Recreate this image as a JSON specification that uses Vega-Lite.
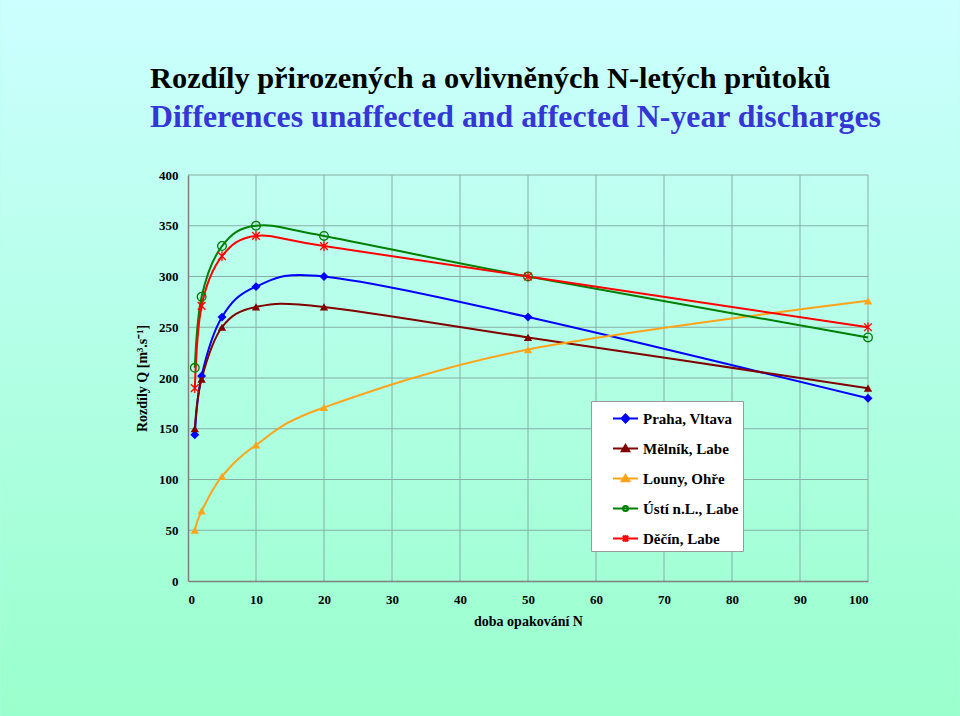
{
  "$schema": "https://vega.github.io/schema/vega-lite/v6.json",
  "width": 680,
  "height": 406,
  "autosize": {"type": "none"},
  "padding": {"left": 188, "top": 175, "right": 92, "bottom": 135},
  "background": "#b3ffe6",
  "title": {
    "text": "Rozdíly přirozených a ovlivněných N-letých průtoků",
    "subtitle": "Differences unaffected and affected N-year discharges",
    "anchor": "start",
    "frame": "group",
    "dx": -38,
    "offset": -134,
    "font": "Liberation Serif",
    "fontSize": 30.4,
    "fontWeight": "bold",
    "color": "#000000",
    "subtitleFont": "Liberation Serif",
    "subtitleFontSize": 31.8,
    "subtitleFontWeight": "bold",
    "subtitleColor": "#3636d6",
    "subtitlePadding": 8,
    "zindex": 2
  },
  "datasets": {
    "series": [
      {"station": "Praha, Vltava", "N": 1, "Q": 144},
      {"station": "Praha, Vltava", "N": 2, "Q": 202},
      {"station": "Praha, Vltava", "N": 5, "Q": 260},
      {"station": "Praha, Vltava", "N": 10, "Q": 290},
      {"station": "Praha, Vltava", "N": 20, "Q": 300},
      {"station": "Praha, Vltava", "N": 50, "Q": 260},
      {"station": "Praha, Vltava", "N": 100, "Q": 180},
      {"station": "Mělník, Labe", "N": 1, "Q": 150},
      {"station": "Mělník, Labe", "N": 2, "Q": 199},
      {"station": "Mělník, Labe", "N": 5, "Q": 250},
      {"station": "Mělník, Labe", "N": 10, "Q": 270},
      {"station": "Mělník, Labe", "N": 20, "Q": 270},
      {"station": "Mělník, Labe", "N": 50, "Q": 240},
      {"station": "Mělník, Labe", "N": 100, "Q": 190},
      {"station": "Louny, Ohře", "N": 1, "Q": 50},
      {"station": "Louny, Ohře", "N": 2, "Q": 69},
      {"station": "Louny, Ohře", "N": 5, "Q": 103},
      {"station": "Louny, Ohře", "N": 10, "Q": 134},
      {"station": "Louny, Ohře", "N": 20, "Q": 171},
      {"station": "Louny, Ohře", "N": 50, "Q": 228},
      {"station": "Louny, Ohře", "N": 100, "Q": 276},
      {"station": "Ústí n.L., Labe", "N": 1, "Q": 210},
      {"station": "Ústí n.L., Labe", "N": 2, "Q": 280},
      {"station": "Ústí n.L., Labe", "N": 5, "Q": 330},
      {"station": "Ústí n.L., Labe", "N": 10, "Q": 350},
      {"station": "Ústí n.L., Labe", "N": 20, "Q": 340},
      {"station": "Ústí n.L., Labe", "N": 50, "Q": 300},
      {"station": "Ústí n.L., Labe", "N": 100, "Q": 240},
      {"station": "Děčín, Labe", "N": 1, "Q": 190},
      {"station": "Děčín, Labe", "N": 2, "Q": 271},
      {"station": "Děčín, Labe", "N": 5, "Q": 320},
      {"station": "Děčín, Labe", "N": 10, "Q": 340},
      {"station": "Děčín, Labe", "N": 20, "Q": 330},
      {"station": "Děčín, Labe", "N": 50, "Q": 300},
      {"station": "Děčín, Labe", "N": 100, "Q": 250}
    ],
    "gridx": [{"g": 10}, {"g": 20}, {"g": 30}, {"g": 40}, {"g": 50}, {"g": 60}, {"g": 70}, {"g": 80}, {"g": 90}, {"g": 100}],
    "gridy": [{"g": 50}, {"g": 100}, {"g": 150}, {"g": 200}, {"g": 250}, {"g": 300}, {"g": 350}, {"g": 400}]
  },
  "config": {
    "view": {"stroke": null},
    "axis": {
      "labelFont": "Liberation Serif",
      "labelFontWeight": "bold",
      "labelFontSize": 13,
      "labelColor": "#000000",
      "titleFont": "Liberation Serif",
      "titleFontWeight": "bold",
      "titleFontSize": 14,
      "titleColor": "#000000",
      "domainColor": "#7f7f7f",
      "domainWidth": 1.5,
      "ticks": false,
      "grid": false
    }
  },
  "layer": [
    {
      "data": {"values": [{}]},
      "mark": {
        "type": "rect",
        "fill": {
          "gradient": "linear",
          "x1": 0, "y1": 0, "x2": 0, "y2": 1,
          "stops": [
            {"offset": 0, "color": "#ccffff"},
            {"offset": 1, "color": "#99ffcc"}
          ]
        }
      },
      "encoding": {
        "x": {"datum": -27.6, "type": "quantitative", "scale": {"domain": [0, 100], "nice": false, "zero": false},
              "axis": {"values": [0,10,20,30,40,50,60,70,80,90,100], "labelPadding": 12, "title": "doba opakování N", "titlePadding": 8, "zindex": 2}},
        "x2": {"datum": 113.5},
        "y": {"datum": 572.4, "type": "quantitative", "scale": {"domain": [0, 400], "nice": false, "zero": false},
              "axis": {"values": [0,50,100,150,200,250,300,350,400], "labelPadding": 10, "title": "Rozdíly Q [m³.s⁻¹]", "titlePadding": 9, "zindex": 2}},
        "y2": {"datum": -133}
      }
    },
    {
      "data": {"name": "gridx"},
      "mark": {"type": "rule", "color": "#86aea6", "strokeWidth": 1},
      "encoding": {"x": {"field": "g", "type": "quantitative",
              "axis": {"values": [0,10,20,30,40,50,60,70,80,90,100], "labelPadding": 12, "title": "doba opakování N", "titlePadding": 8, "zindex": 2}}}
    },
    {
      "data": {"name": "gridy"},
      "mark": {"type": "rule", "color": "#86aea6", "strokeWidth": 1},
      "encoding": {"y": {"field": "g", "type": "quantitative",
              "axis": {"values": [0,50,100,150,200,250,300,350,400], "labelPadding": 10, "title": "Rozdíly Q [m³.s⁻¹]", "titlePadding": 9, "zindex": 2}}}
    },
    {
      "data": {"name": "series"},
      "mark": {"type": "line", "interpolate": "cardinal", "strokeWidth": 2},
      "encoding": {
        "x": {"field": "N", "type": "quantitative",
              "axis": {"values": [0,10,20,30,40,50,60,70,80,90,100], "labelPadding": 12, "title": "doba opakování N", "titlePadding": 8, "zindex": 2}},
        "y": {"field": "Q", "type": "quantitative",
              "axis": {"values": [0,50,100,150,200,250,300,350,400], "labelPadding": 10, "title": "Rozdíly Q [m³.s⁻¹]", "titlePadding": 9, "zindex": 2}},
        "color": {
          "field": "station", "type": "nominal",
          "scale": {"domain": ["Praha, Vltava", "Mělník, Labe", "Louny, Ohře", "Ústí n.L., Labe", "Děčín, Labe"],
                    "range": ["#0000ff", "#800000", "#ffa31a", "#008000", "#ff0000"]},
          "legend": {
            "title": null,
            "orient": "none",
            "legendX": 403,
            "legendY": 226,
            "padding": 4,
            "symbolOffset": 17,
            "symbolSize": 625,
            "symbolStrokeWidth": 2,
            "rowPadding": 8,
            "labelOffset": 4,
            "labelFont": "Liberation Serif",
            "labelFontWeight": "bold",
            "labelFontSize": 15,
            "labelColor": "#000000",
            "fillColor": "#ffffff",
            "strokeColor": "#9a9a9a",
            "zindex": 2,
            "encode": {
              "symbols": {
                "update": {
                  "shape": {"signal": "datum.value === 'Praha, Vltava' ? 'M-1,0H1M0,-0.32L0.32,0L0,0.32L-0.32,0Z' : datum.value === 'Ústí n.L., Labe' ? 'M-1,0H1M0.2,0A0.2,0.2,0,1,1,-0.2,0A0.2,0.2,0,1,1,0.2,0ZM0.2,0A0.2,0.2,0,1,0,-0.2,0A0.2,0.2,0,1,0,0.2,0Z' : datum.value === 'Děčín, Labe' ? 'M-1,0H1M-0.22,-0.22L0.22,0.22M0.22,-0.22L-0.22,0.22M0,-0.28V0.28' : 'M-1,0H1M0,-0.28L0.3,0.22L-0.3,0.22Z'"},
                  "size": {"value": 625},
                  "fill": {"signal": "scale('color', datum.value)"},
                  "stroke": {"signal": "scale('color', datum.value)"},
                  "strokeWidth": {"value": 2},
                  "opacity": {"value": 1}
                }
              }
            }
          }
        }
      }
    },
    {
      "data": {"name": "series"},
      "transform": [{"filter": "datum.station === 'Praha, Vltava'"}],
      "mark": {"type": "point", "shape": "diamond", "filled": true, "opacity": 1, "size": 80},
      "encoding": {
        "x": {"field": "N", "type": "quantitative",
              "axis": {"values": [0,10,20,30,40,50,60,70,80,90,100], "labelPadding": 12, "title": "doba opakování N", "titlePadding": 8, "zindex": 2}},
        "y": {"field": "Q", "type": "quantitative",
              "axis": {"values": [0,50,100,150,200,250,300,350,400], "labelPadding": 10, "title": "Rozdíly Q [m³.s⁻¹]", "titlePadding": 9, "zindex": 2}},
        "color": {"field": "station", "type": "nominal", "legend": null}
      }
    },
    {
      "data": {"name": "series"},
      "transform": [{"filter": "datum.station === 'Mělník, Labe' || datum.station === 'Louny, Ohře'"}],
      "mark": {"type": "point", "shape": "triangle-up", "filled": true, "opacity": 1, "size": 70},
      "encoding": {
        "x": {"field": "N", "type": "quantitative",
              "axis": {"values": [0,10,20,30,40,50,60,70,80,90,100], "labelPadding": 12, "title": "doba opakování N", "titlePadding": 8, "zindex": 2}},
        "y": {"field": "Q", "type": "quantitative",
              "axis": {"values": [0,50,100,150,200,250,300,350,400], "labelPadding": 10, "title": "Rozdíly Q [m³.s⁻¹]", "titlePadding": 9, "zindex": 2}},
        "color": {"field": "station", "type": "nominal", "legend": null}
      }
    },
    {
      "data": {"name": "series"},
      "transform": [{"filter": "datum.station === 'Ústí n.L., Labe'"}],
      "mark": {"type": "point", "shape": "circle", "filled": false, "opacity": 1, "strokeWidth": 1.3, "size": 75},
      "encoding": {
        "x": {"field": "N", "type": "quantitative",
              "axis": {"values": [0,10,20,30,40,50,60,70,80,90,100], "labelPadding": 12, "title": "doba opakování N", "titlePadding": 8, "zindex": 2}},
        "y": {"field": "Q", "type": "quantitative",
              "axis": {"values": [0,50,100,150,200,250,300,350,400], "labelPadding": 10, "title": "Rozdíly Q [m³.s⁻¹]", "titlePadding": 9, "zindex": 2}},
        "color": {"field": "station", "type": "nominal", "legend": null}
      }
    },
    {
      "data": {"name": "series"},
      "transform": [{"filter": "datum.station === 'Děčín, Labe'"}],
      "mark": {"type": "point", "shape": "M-1,-1L1,1M1,-1L-1,1M0,-1.25V1.25", "filled": false, "opacity": 1, "strokeWidth": 1.3, "size": 60},
      "encoding": {
        "x": {"field": "N", "type": "quantitative",
              "axis": {"values": [0,10,20,30,40,50,60,70,80,90,100], "labelPadding": 12, "title": "doba opakování N", "titlePadding": 8, "zindex": 2}},
        "y": {"field": "Q", "type": "quantitative",
              "axis": {"values": [0,50,100,150,200,250,300,350,400], "labelPadding": 10, "title": "Rozdíly Q [m³.s⁻¹]", "titlePadding": 9, "zindex": 2}},
        "color": {"field": "station", "type": "nominal", "legend": null}
      }
    }
  ]
}
